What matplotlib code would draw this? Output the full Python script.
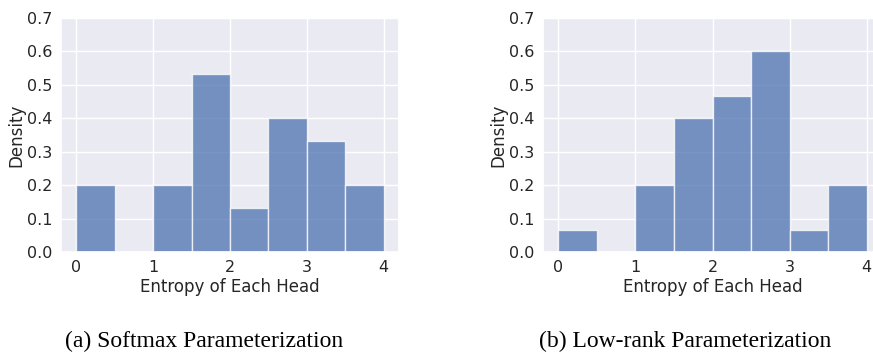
import numpy as np
import matplotlib
matplotlib.use("Agg")
import matplotlib.pyplot as plt
import seaborn as sns

# histogram bins and densities
bin_edges = [0.0, 0.5, 1.0, 1.5, 2.0, 2.5, 3.0, 3.5, 4.0]
softmax_density = [0.2, 0.0, 0.2, 0.533, 0.133, 0.4, 0.333, 0.2]
lowrank_density = [0.067, 0.0, 0.2, 0.4, 0.467, 0.6, 0.067, 0.2]

captions = ["(a) Softmax Parameterization", "(b) Low-rank Parameterization"]
xticks = [0, 1, 2, 3, 4]
yticks = [0.0, 0.1, 0.2, 0.3, 0.4, 0.5, 0.6, 0.7]

sns.set_theme(style="darkgrid")
plt.rcParams['font.family'] = 'sans-serif'
plt.rcParams['font.sans-serif'] = ['DejaVu Sans']

W, H = 873, 352
fig = plt.figure(figsize=(W / 100, H / 100), dpi=100)

def px_axes(x0, y0, x1, y1):
    return fig.add_axes([x0 / W, 1 - y1 / H, (x1 - x0) / W, (y1 - y0) / H])

panels = [
    (px_axes(61, 18, 399, 252), softmax_density, 204),
    (px_axes(543, 18, 882, 252), lowrank_density, 685),
]

left = np.array(bin_edges[:-1])
width = np.diff(bin_edges)
for (ax, dens, cx), cap in zip(panels, captions):
    ax.bar(left, dens, width=width, align='edge', color='#4c72b0',
           alpha=0.75, edgecolor='white', linewidth=1)
    ax.set_xlim(-0.2, 4.2)
    ax.set_ylim(0, 0.7)
    ax.set_xticks(xticks)
    ax.set_yticks(yticks)
    ax.set_yticklabels([f"{v:.1f}" for v in yticks])
    ax.tick_params(labelsize=11.5, size=0, pad=6, colors='0.15')
    ax.set_xlabel("Entropy of Each Head", fontsize=12, color='0.15', labelpad=2)
    ax.set_ylabel("Density", fontsize=12, color='0.15', labelpad=1)
    fig.text(cx / W, 1 - 341 / H, cap, ha='center', va='center',
             fontsize=17, family='Liberation Serif', color='black')

fig.savefig("out.png", dpi=100)
